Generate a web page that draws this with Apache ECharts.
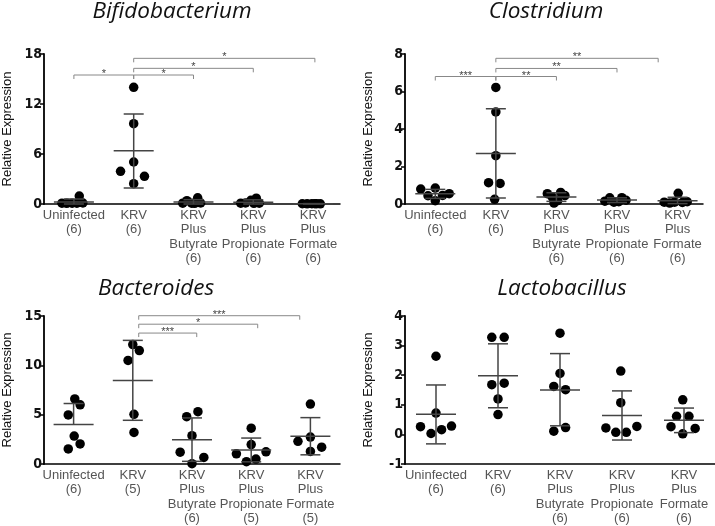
<!DOCTYPE html>
<html><head><meta charset="utf-8">
<script src="https://cdn.jsdelivr.net/npm/echarts@6/dist/echarts.min.js"></script>
<style>html,body{margin:0;padding:0;background:#fff}#c{width:715px;height:526px}</style>
</head><body><div id="c"></div>
<script>
// ---------- data ----------
const categories = ['Uninfected', 'KRV', 'KRV\nPlus\nButyrate', 'KRV\nPlus\nPropionate', 'KRV\nPlus\nFormate'];
const panelTitles = ['Bifidobacterium', 'Clostridium', 'Bacteroides', 'Lactobacillus'];
const yAxisTitle = 'Relative Expression';

// Bifidobacterium
const bifidoN = ['(6)', '(6)', '(6)', '(6)', '(6)'];
const bifidoValues = [
  [0.1, 0.08, 0.1, 0.96, 0.1, 0.12],
  [3.92, 14.0, 9.64, 5.04, 3.32, 2.44],
  [0.1, 0.4, 0.1, 0.75, 0.12, 0.08],
  [0.1, 0.12, 0.45, 0.7, 0.1, 0.08],
  [0.03, 0.02, 0.04, 0.03, 0.02, 0.03]
];
const bifidoJitter = [
  [-0.2, -0.12, -0.03, 0.09, 0.05, 0.15],
  [-0.22, 0, 0, 0, 0.18, 0],
  [-0.18, -0.11, -0.03, 0.07, 0.12, 0.02],
  [-0.21, -0.13, -0.04, 0.05, 0.1, 0.01],
  [-0.18, -0.1, -0.02, 0.06, 0.12, 0.03]
];
const bifidoMean = [0.25, 6.4, 0.24, 0.22, 0.03];
const bifidoTop = [0.6, 10.8, 0.52, 0.5, 0.05];
const bifidoBottom = [0, 1.92, 0, 0, 0.01];
const bifidoBrackets = [[0, 1, 15.48, '*'], [1, 2, 15.48, '*'], [1, 3, 16.28, '*'], [1, 4.03, 17.48, '*']];

// Clostridium
const clostN = ['(6)', '(6)', '(6)', '(6)', '(6)'];
const clostValues = [
  [0.8, 0.85, 0.44, 0.46, 0.55, 0.18],
  [6.22, 4.91, 2.58, 1.14, 1.10, 0.25],
  [0.55, 0.38, 0.05, 0.18, 0.62, 0.45],
  [0.15, 0.33, 0.1, 0.12, 0.34, 0.2],
  [0.1, 0.05, 0.1, 0.57, 0.08, 0.12]
];
const clostJitter = [
  [-0.24, 0, -0.12, 0.12, 0.23, 0],
  [0, 0, 0, -0.12, 0.07, -0.02],
  [-0.15, -0.07, -0.04, 0.02, 0.07, 0.14],
  [-0.2, -0.12, -0.05, 0.03, 0.08, 0.15],
  [-0.22, -0.13, -0.05, 0.01, 0.08, 0.16]
];
const clostMean = [0.55, 2.7, 0.37, 0.21, 0.17];
const clostTop = [0.78, 5.08, 0.6, 0.33, 0.36];
const clostBottom = [0.3, 0.32, 0.14, 0.08, 0.02];
const clostBrackets = [[0, 1, 6.8, '***'], [1, 2, 6.8, '**'], [1, 3, 7.23, '**'], [1, 3.68, 7.77, '**']];

// Bacteroides
const bactN = ['(6)', '(5)', '(6)', '(5)', '(5)'];
const bactValues = [
  [6.6, 6.0, 4.97, 2.83, 2.03, 1.53],
  [12.1, 11.5, 10.5, 5.03, 3.2],
  [4.8, 5.3, 2.87, 1.2, 0.67, 0.03],
  [3.63, 1.97, 1.03, 1.23, 0.5, 0.23],
  [6.07, 2.73, 2.3, 1.7, 1.27]
];
const bactJitter = [
  [0.02, 0.11, -0.09, 0.01, 0.11, -0.09],
  [0, 0.11, -0.08, 0.02, 0.02],
  [-0.09, 0.1, 0, -0.2, 0.2, 0],
  [0, 0, -0.25, 0.25, 0.08, -0.08],
  [0, 0, -0.21, 0.19, 0]
];
const bactMean = [4.0, 8.47, 2.47, 1.43, 2.81];
const bactTop = [6.13, 12.53, 4.67, 2.63, 4.7];
const bactBottom = [null, 4.43, 0.27, 0.22, 0.93];
const bactBrackets = [[1.1, 2.08, 13.27, '***'], [1.1, 3.11, 14.17, '*'], [1.1, 3.82, 15.03, '***']];

// Lactobacillus
const lactoN = ['(6)', '(6)', '(6)', '(6)', '(6)'];
const lactoValues = [
  [2.64, 0.72, 0.26, 0.28, 0.16, 0.03],
  [3.28, 3.28, 1.68, 1.73, 1.2, 0.67],
  [3.42, 2.06, 1.62, 1.51, 0.23, 0.11],
  [2.14, 1.07, 0.22, 0.27, 0.07, 0.07],
  [1.17, 0.61, 0.61, 0.26, 0.2, 0.02]
];
const lactoJitter = [
  [0, 0, -0.25, 0.25, 0.09, -0.08],
  [-0.1, 0.1, -0.1, 0.1, 0, 0],
  [0, 0, -0.1, 0.09, 0.09, -0.1],
  [-0.02, -0.02, -0.26, 0.24, -0.1, 0.07],
  [-0.02, -0.12, 0.08, -0.21, 0.18, -0.02]
];
const lactoMean = [0.68, 1.98, 1.5, 0.64, 0.48];
const lactoTop = [1.67, 3.06, 2.73, 1.47, 0.89];
const lactoBottom = [-0.32, 0.9, 0.29, -0.19, 0.06];
const lactoBrackets = [];

// y-axis scales
const yMin = [0, 0, 0, -1];
const yMax = [18, 8, 15, 4];
const yStep = [6, 2, 5, 1];
const xMax = [4.45, 4.42, 4.5, 4.5];

// ---------- layout / style ----------
const grids = [
  { left: 42, top: 54, width: 298, height: 150 },
  { left: 405, top: 54, width: 298, height: 150 },
  { left: 41, top: 316, width: 299, height: 150 },
  { left: 405, top: 316, width: 310, height: 150 }
];
const titlePos = [[172, 0], [546, 0], [156, 277], [562, 277]];
const panels = [
  { n: bifidoN, v: bifidoValues, j: bifidoJitter, m: bifidoMean, t: bifidoTop, b: bifidoBottom, br: bifidoBrackets },
  { n: clostN, v: clostValues, j: clostJitter, m: clostMean, t: clostTop, b: clostBottom, br: clostBrackets },
  { n: bactN, v: bactValues, j: bactJitter, m: bactMean, t: bactTop, b: bactBottom, br: bactBrackets },
  { n: lactoN, v: lactoValues, j: lactoJitter, m: lactoMean, t: lactoTop, b: lactoBottom, br: lactoBrackets }
];

const barColor = '#444';
const xAxes = [], yAxes = [], series = [], titles = [];
panels.forEach((p, k) => {
  titles.push({
    text: panelTitles[k], left: titlePos[k][0], top: titlePos[k][1], textAlign: 'center', padding: 0,
    textStyle: { fontFamily: "'Open Sans', sans-serif", fontStyle: 'italic', fontWeight: 'normal', fontSize: 22.5, color: '#111' }
  });
  xAxes.push({
    type: 'value', gridIndex: k, min: -0.5, max: xMax[k],
    splitLine: { show: false },
    axisLine: { show: true, onZero: false, lineStyle: { color: '#000', width: 1.5 } },
    axisTick: { show: false },
    axisLabel: {
      customValues: [0, 1, 2, 3, 4], margin: 4,
      formatter: (val) => { const i = Math.round(val); return categories[i] + '\n' + p.n[i]; },
      color: '#555', fontSize: 13, lineHeight: 14.5, fontFamily: "'Liberation Sans', Arial, sans-serif"
    }
  });
  yAxes.push({
    type: 'value', gridIndex: k, min: yMin[k], max: yMax[k], interval: yStep[k],
    name: yAxisTitle, nameLocation: 'middle', nameGap: 30,
    nameTextStyle: { fontFamily: "'Liberation Sans', Arial, sans-serif", fontSize: 13, color: '#111' },
    splitLine: { show: false },
    axisLine: { show: true, onZero: false, lineStyle: { color: '#000', width: 1.8 } },
    axisTick: { show: true, length: 4, lineStyle: { color: '#000', width: 1.5 } },
    axisLabel: { margin: 2, fontFamily: "'Liberation Sans Narrow', 'DejaVu Sans Condensed', sans-serif", fontWeight: 'bold', fontSize: 14, color: '#111' }
  });
  series.push({
    type: 'scatter', xAxisIndex: k, yAxisIndex: k, symbolSize: 9.5, z: 2,
    itemStyle: { color: '#000', opacity: 1 },
    data: p.v.flatMap((g, i) => g.map((val, j) => [i + p.j[i][j], val]))
  });
  series.push({
    type: 'custom', xAxisIndex: k, yAxisIndex: k, z: 3, clip: false, silent: true,
    data: p.m.map((mv, i) => [i, mv]),
    renderItem: (params, api) => {
      const i = params.dataIndex;
      const c = api.coord([i, p.m[i]]);
      const t = api.coord([i, p.t[i]]);
      const st = { stroke: barColor, lineWidth: 1.5 };
      const ch = [
        { type: 'line', shape: { x1: c[0] - 20, y1: c[1], x2: c[0] + 20, y2: c[1] }, style: st },
        { type: 'line', shape: { x1: t[0], y1: t[1], x2: t[0], y2: c[1] }, style: st },
        { type: 'line', shape: { x1: t[0] - 10, y1: t[1], x2: t[0] + 10, y2: t[1] }, style: st }
      ];
      if (p.b[i] !== null) {
        const b = api.coord([i, p.b[i]]);
        ch.push({ type: 'line', shape: { x1: b[0], y1: c[1], x2: b[0], y2: b[1] }, style: st });
        ch.push({ type: 'line', shape: { x1: b[0] - 10, y1: b[1], x2: b[0] + 10, y2: b[1] }, style: st });
      }
      return { type: 'group', children: ch };
    }
  });
  if (p.br.length) {
    series.push({
      type: 'custom', xAxisIndex: k, yAxisIndex: k, z: 3, clip: false, silent: true,
      data: p.br.map((b) => [b[0], b[2]]),
      renderItem: (params, api) => {
        const b = p.br[params.dataIndex];
        const a = api.coord([b[0], b[2]]);
        const e = api.coord([b[1], b[2]]);
        return {
          type: 'group', children: [
            { type: 'polyline', shape: { points: [[a[0], a[1] + 4], [a[0], a[1]], [e[0], e[1]], [e[0], e[1] + 4]] },
              style: { stroke: '#888', lineWidth: 1, fill: null } },
            { type: 'text', style: { text: b[3], x: (a[0] + e[0]) / 2, y: a[1] - 1, align: 'center', verticalAlign: 'middle',
              fill: '#444', font: "11px 'Liberation Sans', Arial, sans-serif" } }
          ]
        };
      }
    });
  }
});

const chart = echarts.init(document.getElementById('c'), null, { renderer: 'canvas' });
chart.setOption({
  animation: false,
  backgroundColor: '#fff',
  title: titles,
  grid: grids,
  xAxis: xAxes,
  yAxis: yAxes,
  series: series
});
</script>
</body></html>
